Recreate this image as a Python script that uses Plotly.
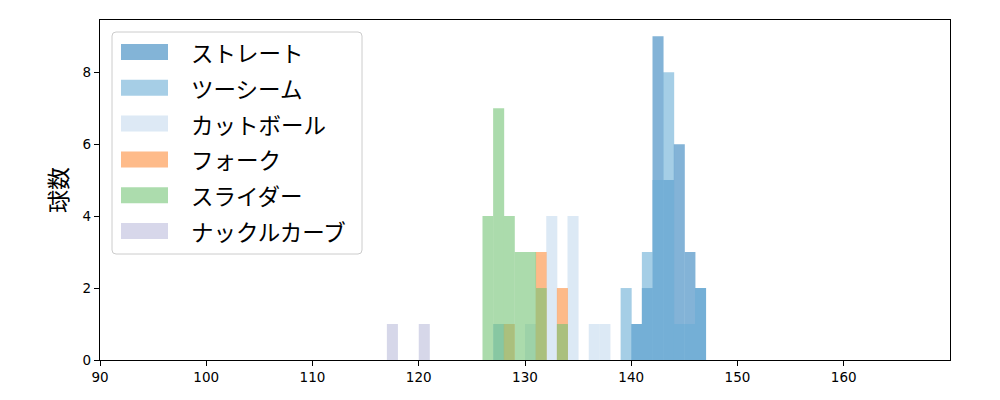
import plotly.graph_objects as go

# ---- data (bin left edges, width 1 km/h) ----
names = ["ストレート", "ツーシーム", "カットボール", "フォーク", "スライダー", "ナックルカーブ"]

straight_x = [140, 141, 142, 143, 144, 145, 146]
straight_y = [1, 2, 9, 5, 6, 3, 2]

twoseam_x = [127, 139, 140, 141, 142, 143, 144, 145, 146]
twoseam_y = [1, 2, 1, 3, 5, 8, 1, 1, 2]

cut_x = [130, 132, 134, 136, 137]
cut_y = [1, 4, 4, 1, 1]

fork_x = [128, 131, 133]
fork_y = [1, 3, 2]

slider_x = [126, 127, 128, 129, 130, 131, 133]
slider_y = [4, 7, 4, 3, 3, 2, 1]

knuckle_x = [117, 120]
knuckle_y = [1, 1]

colors = ["#3182bd", "#6baed6", "#c6dbef", "#fd8d3c", "#74c476", "#bcbddc"]
series = [(straight_x, straight_y), (twoseam_x, twoseam_y), (cut_x, cut_y),
          (fork_x, fork_y), (slider_x, slider_y), (knuckle_x, knuckle_y)]

x_ticks = [90, 100, 110, 120, 130, 140, 150, 160]
y_ticks = [0, 2, 4, 6, 8]

ALPHA = 0.6
fig = go.Figure()
for name, (xs, ys), c in zip(names, series, colors):
    fig.add_trace(go.Bar(x=xs, y=ys, width=1.04, offset=0, name=name,
                         marker=dict(color=c, line=dict(width=0)),
                         opacity=ALPHA, showlegend=False))

# ---- layout geometry (screen pixels; page body adds an 8px offset) ----
OFF = 8
W, H = 1000, 400
L, R, T, B = 100 - OFF, 50 + OFF, 20 - OFF, 40 + OFF
pw, ph = W - L - R, H - T - B

def px(xp):
    return (xp - OFF - L) / pw

def py(yp):
    return (H - B - (yp - OFF)) / ph

shapes = []
annotations = []

# legend frame (rounded)
x0, x1, y0, y1 = px(112), px(362), py(254), py(32)
rx, ry = 4 / pw, 4 / ph
path = (f"M {x0+rx},{y1} L {x1-rx},{y1} Q {x1},{y1} {x1},{y1-ry} "
        f"L {x1},{y0+ry} Q {x1},{y0} {x1-rx},{y0} L {x0+rx},{y0} "
        f"Q {x0},{y0} {x0},{y0+ry} L {x0},{y1-ry} Q {x0},{y1} {x0+rx},{y1} Z")
shapes.append(dict(type="path", xref="paper", yref="paper", path=path,
                   fillcolor="rgba(255,255,255,0.8)",
                   line=dict(color="#cccccc", width=1), layer="above"))

for i, (name, c) in enumerate(zip(names, colors)):
    cy = 52 + i * 35.8
    shapes.append(dict(type="rect", xref="paper", yref="paper",
                       x0=px(121), x1=px(168), y0=py(cy + 8), y1=py(cy - 8),
                       fillcolor=c, opacity=ALPHA, line=dict(width=0),
                       layer="above"))
    annotations.append(dict(x=px(189), y=py(cy), xref="paper", yref="paper",
                            text=name, showarrow=False, xanchor="left",
                            yanchor="middle",
                            font=dict(family="Noto Sans CJK JP", size=22.5,
                                      color="#000000")))

annotations.append(dict(x=px(57), y=py(190), xref="paper", yref="paper",
                        text="球数", showarrow=False, textangle=-90,
                        xanchor="center", yanchor="middle",
                        font=dict(family="Noto Sans CJK JP", size=23,
                                  color="#000000")))

axis_common = dict(showline=True, linecolor="black", linewidth=1.2,
                   mirror=True, ticks="outside", ticklen=5, tickwidth=1.2,
                   tickcolor="black", showgrid=False, zeroline=False,
                   tickfont=dict(family="DejaVu Sans", size=13.5,
                                 color="black"))

fig.update_layout(
    width=W, height=H,
    margin=dict(l=L, r=R, t=T, b=B),
    barmode="overlay",
    plot_bgcolor="white", paper_bgcolor="white",
    xaxis=dict(range=[90, 170], tickvals=x_ticks, **axis_common),
    yaxis=dict(range=[0, 9.45], tickvals=y_ticks, **axis_common),
    shapes=shapes, annotations=annotations,
)

fig.write_html("out.html")
